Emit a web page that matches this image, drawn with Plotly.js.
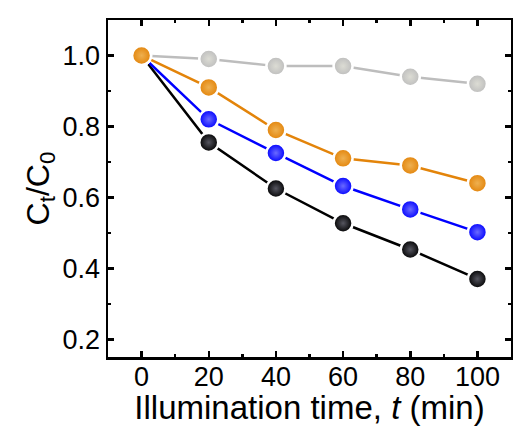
<!DOCTYPE html>
<html><head><meta charset="utf-8">
<script src="https://cdn.plot.ly/plotly-3.0.1.min.js"></script>
<style>html,body{margin:0;padding:0;background:#fff}#plot{width:513px;height:426px}</style>
</head><body><div id="plot"></div>
<script>
const time = [0, 20, 40, 60, 80, 100];
const grayVals = [1.0, 0.99, 0.97, 0.97, 0.94, 0.92];
const orangeVals = [1.0, 0.91, 0.79, 0.71, 0.69, 0.64];
const blueVals = [1.0, 0.82, 0.725, 0.632, 0.566, 0.502];
const blackVals = [1.0, 0.755, 0.625, 0.527, 0.453, 0.37];
const xTicks = [0, 20, 40, 60, 80, 100];
const yTicks = [0.2, 0.4, 0.6, 0.8, 1.0];

function tr(y, color, hi) {
  return {
    x: time, y: y, type: 'scatter', mode: 'lines+markers',
    line: {color: color, width: 2.5},
    marker: {size: 19, color: color, line: {color: '#ffffff', width: 2.5},
             gradient: {type: 'radial', color: hi}},
    showlegend: false, cliponaxis: false
  };
}
const data = [
  tr(blackVals, '#000000', '#55555f'),
  tr(blueVals, '#0000ff', '#6a6aff'),
  tr(grayVals, '#bdbdbd', '#dcdcd4'),
  tr(orangeVals, '#e3840a', '#eeb050')
];

const FAM = 'Liberation Sans, Arial, sans-serif';
const tickFont = {family: FAM, size: 27, color: '#000'};
const layout = {
  width: 513, height: 426,
  margin: {l: 108, r: 2, t: 20, b: 69},
  paper_bgcolor: '#fff', plot_bgcolor: '#fff',
  font: tickFont,
  xaxis: {
    range: [-10, 110], tickvals: xTicks, ticktext: xTicks.map(String),
    ticks: 'inside', ticklen: 6, tickwidth: 2.5, tickcolor: '#000',
    minor: {ticks: 'inside', tickvals: [10, 30, 50, 70, 90], ticklen: 3, tickwidth: 2.5, tickcolor: '#000'},
    showline: true, linewidth: 2.5, linecolor: '#000', mirror: 'ticks',
    showgrid: false, zeroline: false, tickfont: tickFont, ticklabelstandoff: -6,
    title: {text: 'Illumination time, <i>t</i> (min)', font: {family: FAM, size: 33, color: '#000'}, standoff: 0}
  },
  yaxis: {
    range: [0.15, 1.1], tickvals: yTicks, ticktext: yTicks.map(v => v.toFixed(1)),
    ticks: 'inside', ticklen: 6, tickwidth: 2.5, tickcolor: '#000',
    minor: {ticks: 'inside', tickvals: [0.3, 0.5, 0.7, 0.9], ticklen: 3, tickwidth: 2.5, tickcolor: '#000'},
    showline: true, linewidth: 2.5, linecolor: '#000', mirror: 'ticks',
    showgrid: false, zeroline: false, tickfont: tickFont,
    title: {text: 'C<sub>t</sub>/C<sub>0</sub>', font: {family: FAM, size: 32, color: '#000'}, standoff: 4}
  }
};
Plotly.newPlot('plot', data, layout, {displayModeBar: false, staticPlot: true});
</script></body></html>
